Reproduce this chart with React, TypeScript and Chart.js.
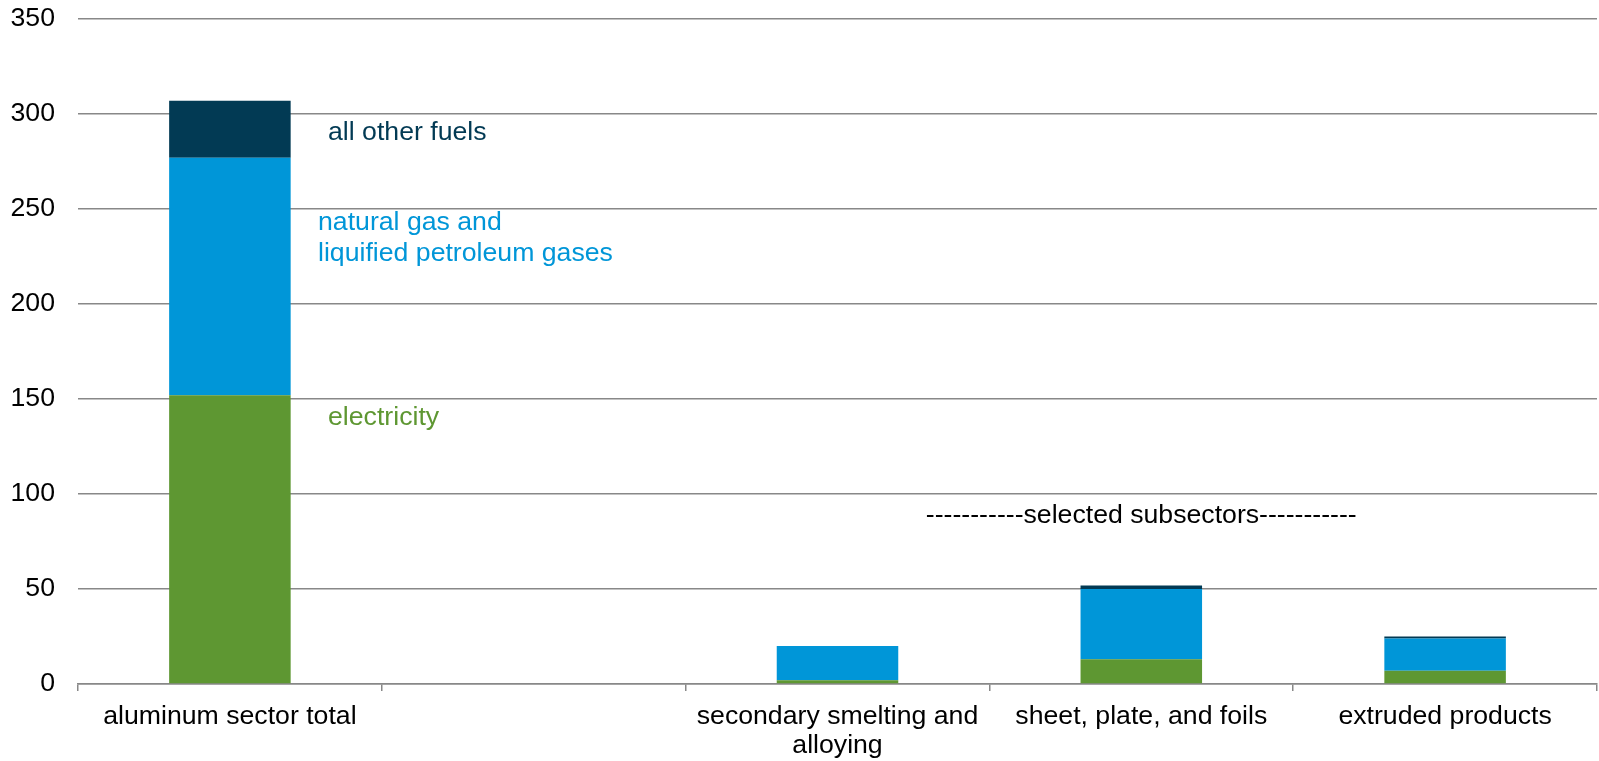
import React, { useEffect, useRef } from "react";
import { Chart, registerables } from "chart.js";

Chart.register(...registerables);

const categories: (string | string[])[] = [
  "aluminum sector total",
  "",
  ["secondary smelting and", "alloying"],
  "sheet, plate, and foils",
  "extruded products",
];
const electricity = [152, null, 2, 13, 7];
const naturalGas = [125, null, 18, 37, 17];
const otherFuels = [30, null, 0, 1.8, 1];
const yTicks = [0, 50, 100, 150, 200, 250, 300, 350];

const GREEN = "#5e9732";
const BLUE = "#0096d8";
const DARK = "#023a54";
const FONT = "Arial, 'Liberation Sans', sans-serif";
const FS = 26.67;

// annotation texts: category index (+ fraction of category width), y value
const notes = [
  { lines: ["all other fuels"], cat: 0, frac: 0.323, y: 290, color: DARK, align: "left" },
  { lines: ["natural gas and", "liquified petroleum gases"], cat: 0, frac: 0.29, y: 243, color: BLUE, align: "left" },
  { lines: ["electricity"], cat: 0, frac: 0.323, y: 140, color: GREEN, align: "left" },
  { lines: ["-----------selected subsectors-----------"], cat: 3, frac: 0, y: 88.6, color: "#000", align: "center" },
];

const notePlugin = {
  id: "notes",
  afterDatasetsDraw(chart: any) {
    const { ctx, scales } = chart;
    const xs = scales.x;
    const ys = scales.y;
    const catW = xs.getPixelForValue(1) - xs.getPixelForValue(0);
    ctx.save();
    ctx.font = `${FS}px ${FONT}`;
    ctx.textBaseline = "middle";
    notes.forEach((n) => {
      const x = xs.getPixelForValue(n.cat) + n.frac * catW;
      const y0 = ys.getPixelForValue(n.y);
      ctx.fillStyle = n.color;
      ctx.textAlign = n.align as CanvasTextAlign;
      n.lines.forEach((l, i) => ctx.fillText(l, x, y0 + i * 31));
    });
    ctx.restore();
  },
};

export default function App() {
  const ref = useRef<HTMLCanvasElement>(null);
  useEffect(() => {
    document.body.style.margin = "0";
    const chart = new Chart(ref.current!, {
      type: "bar",
      data: {
        labels: categories,
        datasets: [
          { label: "electricity", data: electricity, backgroundColor: GREEN },
          { label: "natural gas and liquified petroleum gases", data: naturalGas, backgroundColor: BLUE },
          { label: "all other fuels", data: otherFuels, backgroundColor: DARK },
        ],
      },
      options: {
        animation: false,
        responsive: false,
        maintainAspectRatio: false,
        layout: { padding: { top: 19, right: 2, left: 0, bottom: 0 } },
        plugins: { legend: { display: false }, tooltip: { enabled: false } },
        datasets: { bar: { barPercentage: 0.4, categoryPercentage: 1 } },
        scales: {
          x: {
            stacked: true,
            offset: true,
            grid: {
              offset: true,
              drawOnChartArea: false,
              drawTicks: true,
              tickLength: 7,
              color: "#888888",
              lineWidth: 1.5,
            },
            border: { color: "#888888", width: 1.5 },
            ticks: {
              color: "#000",
              font: { family: FONT, size: FS, lineHeight: 1.08 },
              padding: 11,
              maxRotation: 0,
              autoSkip: false,
            },
            afterFit: (s: any) => {
              s.height = 77;
              s.paddingLeft = 0;
              s.paddingRight = 0;
            },
          },
          y: {
            stacked: true,
            min: 0,
            max: 350,
            afterBuildTicks: (s: any) => {
              s.ticks = yTicks.map((v) => ({ value: v }));
            },
            grid: { color: "#888888", lineWidth: 1.5, drawTicks: false },
            border: { display: false },
            ticks: {
              color: "#000",
              font: { family: FONT, size: FS },
              padding: 23,
            },
            afterFit: (s: any) => {
              s.width = 78;
              s.paddingTop = 0;
              s.paddingBottom = 0;
            },
          },
        },
      },
      plugins: [notePlugin],
    });
    return () => chart.destroy();
  }, []);
  return (
    <div style={{ width: 1599, height: 761 }}>
      <canvas ref={ref} width={1599} height={761} style={{ display: "block" }} />
    </div>
  );
}
